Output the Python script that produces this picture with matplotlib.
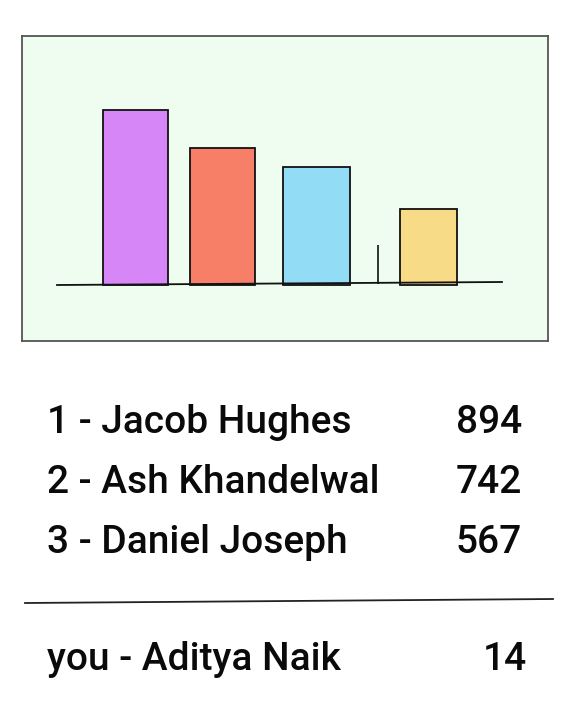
import matplotlib.pyplot as plt

# leaderboard data
ranks = ['1', '2', '3']
names = ['Jacob Hughes', 'Ash Khandelwal', 'Daniel Joseph']
scores = [894, 742, 567]
you_name = 'Aditya Naik'
you_score = 14

# bar sketch (heights as drawn, arbitrary units)
bar_x = [135.5, 222.5, 316.5, 428.5]
bar_w = [65, 65, 67, 57]
bar_h = [175, 137, 118, 76]
bar_colors = ['#d786f8', '#f77f67', '#93dcf6', '#f7db86']
tick_x = 378
tick_h = 40

W, H = 579, 722
fig = plt.figure(figsize=(W / 100, H / 100), dpi=100)

# panel with bars
ax = fig.add_axes([22 / W, (H - 341) / H, 526 / W, 305 / H])
ax.set_facecolor('#effdf1')
ax.set_xlim(22, 548)
ax.set_ylim(-56, 249)
ax.bar(bar_x, bar_h, width=bar_w, color=bar_colors, edgecolor='#111111', linewidth=1.3, zorder=2)
ax.vlines(tick_x, 1, tick_h, color='#111111', linewidth=1.2, zorder=2)
ax.plot([57, 502], [0, 3], color='#111111', linewidth=1.3, zorder=3)
ax.set_xticks([])
ax.set_yticks([])
for s in ax.spines.values():
    s.set_color('#555555')
    s.set_linewidth(1.3)

font = dict(family=['Roboto', 'DejaVu Sans'], fontsize=28, fontweight='medium', color='#0a0a0a')

rows_y = [433, 493, 553]
for r, n, sc, y in zip(ranks, names, scores, rows_y):
    fig.text(47 / W, 1 - y / H, '{} - {}'.format(r, n), ha='left', va='baseline', **font)
    fig.text(522 / W, 1 - y / H, str(sc), ha='right', va='baseline', **font)

# divider
fig.add_artist(plt.Line2D([25 / W, 553 / W], [1 - 603 / H, 1 - 599 / H], color='#222222', linewidth=1.3))

fig.text(47 / W, 1 - 670 / H, 'you - {}'.format(you_name), ha='left', va='baseline', **font)
fig.text(527 / W, 1 - 670 / H, str(you_score), ha='right', va='baseline', **font)

plt.savefig('out.png', dpi=100)
